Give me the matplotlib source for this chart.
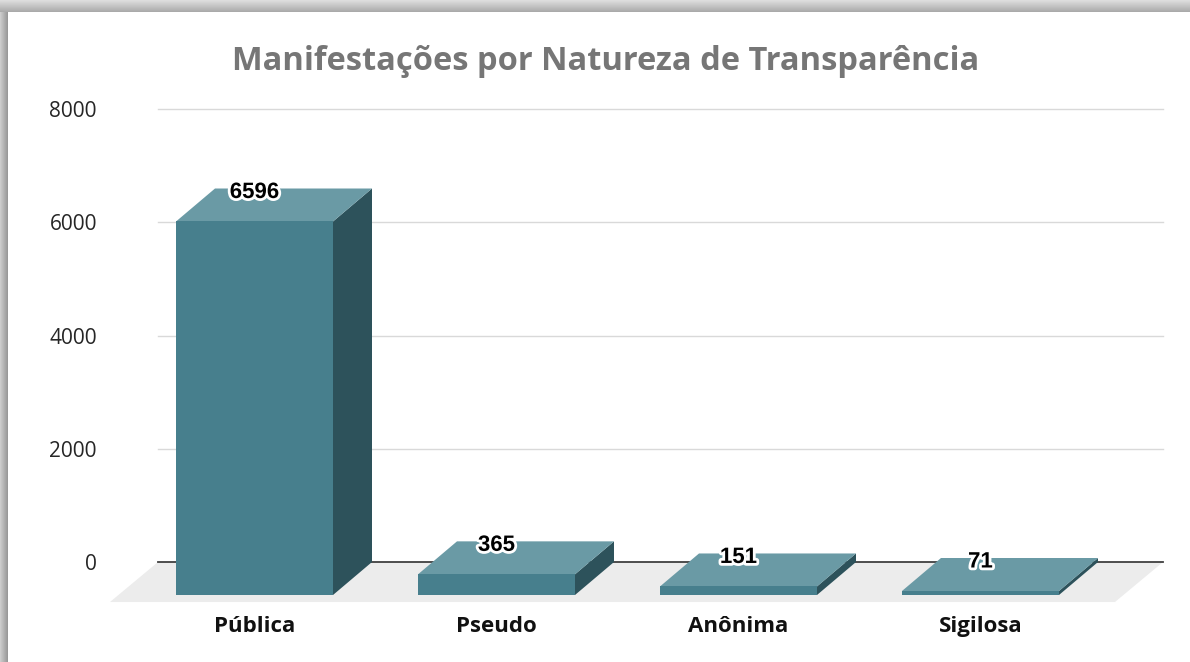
import matplotlib
matplotlib.use("Agg")
import matplotlib.pyplot as plt
import matplotlib.patheffects as pe
import numpy as np
from matplotlib.patches import Polygon, Rectangle

# data
categories = ["Pública", "Pseudo", "Anônima", "Sigilosa"]
values = [6596, 365, 151, 71]
yticks = [0, 2000, 4000, 6000, 8000]
title = "Manifestações por Natureza de Transparência"

# colours
c_front = "#477f8d"
c_top = "#6a9aa5"
c_side = "#2d525b"
c_floor = "#ececec"

W, H = 1190, 662
fig = plt.figure(figsize=(W / 100, H / 100), dpi=100)
fig.patch.set_facecolor("white")

# shadow frame (top and left edges)
bg = fig.add_axes([0, 0, 1, 1])
img = np.ones((H, W, 3))
top_h, left_w = 12, 8
for r in range(top_h):
    g = 0.87 - 0.20 * r / (top_h - 1)
    img[r, :, :] = g
for c in range(left_w):
    g = 0.80 - 0.20 * c / (left_w - 1)
    img[top_h:, c, :] = np.minimum(img[top_h:, c, :], g)
bg.imshow(img, aspect="auto", extent=[0, 1, 0, 1], interpolation="bilinear")
bg.set_xlim(0, 1)
bg.set_ylim(0, 1)
bg.axis("off")

# main axes placed in pixel coordinates
ax_l, ax_r, ax_t, ax_b = 158, 1163, 109, 610
ax = fig.add_axes([ax_l / W, 1 - ax_b / H, (ax_r - ax_l) / W, (ax_b - ax_t) / H])
ax.patch.set_alpha(0)

spacing_px = 242.0
x_left = -(293.5 - ax_l) / spacing_px
x_right = x_left + (ax_r - ax_l) / spacing_px
units_per_px = 2000 / 113.3
y_bottom = -(ax_b - 562) * units_per_px
ax.set_xlim(x_left, x_right)
ax.set_ylim(y_bottom, 8000)

bar_w = 157 / spacing_px
dx = 39 / spacing_px
dy = 33 * units_per_px
fdx = 48 / spacing_px
fdy = 40 * units_per_px

# gridlines on back wall
for t in yticks:
    ax.plot([x_left, x_right], [t, t], color="#404040" if t == 0 else "#d9d9d9",
            lw=1.3 if t == 0 else 1.0, zorder=1, clip_on=False)

# floor
floor = Polygon([(x_left, 0), (x_right, 0), (x_right - fdx, -fdy), (x_left - fdx, -fdy)],
                closed=True, facecolor=c_floor, edgecolor="none", zorder=0.5, clip_on=False)
ax.add_patch(floor)

for i, v in enumerate(values):
    x0, x1 = i - bar_w / 2, i + bar_w / 2
    front = Rectangle((x0 - dx, -dy), bar_w, v, facecolor=c_front, edgecolor="none",
                      zorder=3, clip_on=False)
    top = Polygon([(x0 - dx, v - dy), (x1 - dx, v - dy), (x1, v), (x0, v)],
                  facecolor=c_top, edgecolor="none", zorder=3, clip_on=False)
    side = Polygon([(x1 - dx, -dy), (x1, 0), (x1, v), (x1 - dx, v - dy)],
                   facecolor=c_side, edgecolor="none", zorder=3, clip_on=False)
    for p in (side, top, front):
        ax.add_patch(p)
    ax.text(i - dx, v - 4 * units_per_px, str(v), ha="center", va="center",
            fontsize=16, fontweight="bold", family="Liberation Sans", color="black",
            zorder=5, path_effects=[pe.withStroke(linewidth=4, foreground="white")])

# axes decoration
for s in ax.spines.values():
    s.set_visible(False)
ax.set_yticks(yticks)
ax.set_yticklabels([str(t) for t in yticks], fontsize=15, family="Open Sans", color="#262626")
ax.tick_params(axis="y", length=0, pad=44)
ax.set_xticks([i - dx for i in range(len(categories))])
ax.set_xticklabels(categories, fontsize=16, fontweight="bold", family="Open Sans", color="#111111")
ax.tick_params(axis="x", length=0, pad=4)

fig.text(606 / W, 1 - 62 / H, title, ha="center", va="center", fontsize=23.5,
         fontweight="bold", family="Open Sans", color="#767676")

fig.savefig("out.png", dpi=100)
